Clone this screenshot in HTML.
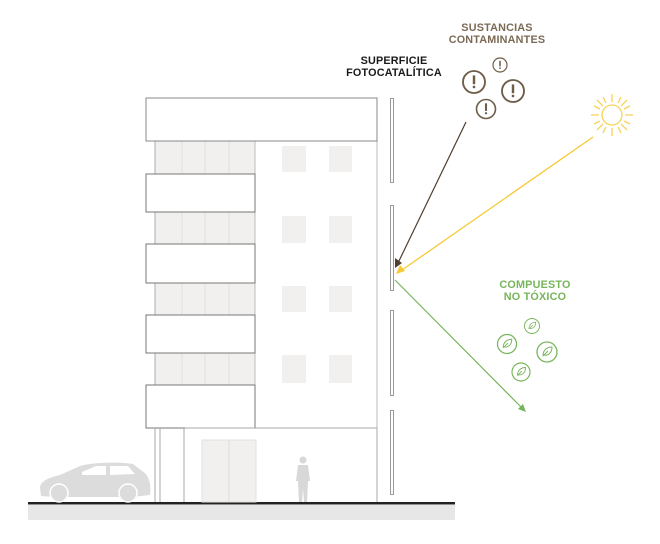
<!DOCTYPE html>
<html><head><meta charset="utf-8"><style>
html,body{margin:0;padding:0;background:#fff;}
svg{display:block}
text{font-family:"Liberation Sans",sans-serif;font-weight:bold;font-size:10.8px;text-anchor:middle;letter-spacing:0.2px}
</style></head><body>
<svg width="660" height="544" viewBox="0 0 660 544" xmlns="http://www.w3.org/2000/svg">
<defs>
<g id="ex"><circle r="10" fill="none" stroke="#6e5d48" stroke-width="1.7"/><rect x="-1.1" y="-6" width="2.2" height="8" fill="#6e5d48"/><circle cy="4.5" r="1.2" fill="#6e5d48"/></g>
<g id="lf"><circle r="10" fill="none" stroke="#77b55a" stroke-width="1.3"/><path d="M-4 4 C-4 -2 0 -5 5 -5 C5 1 1 4 -3 3 M-4 4 L1 -1" fill="none" stroke="#77b55a" stroke-width="1"/></g>
</defs>
<rect x="28" y="505" width="427" height="15" fill="#e6e7e6"/>
<rect x="28" y="502" width="427" height="2.5" fill="#222"/>
<g fill="#f1f0ee" stroke="#999" stroke-width="0.8">
<rect x="155" y="141" width="100" height="33"/><rect x="155" y="212" width="100" height="32"/>
<rect x="155" y="283" width="100" height="32"/><rect x="155" y="353" width="100" height="32"/>
</g>
<g stroke="#e2e1de" stroke-width="1">
<path d="M182 141V174M205 141V174M229 141V174M182 212V244M205 212V244M229 212V244M182 283V315M205 283V315M229 283V315M182 353V385M205 353V385M229 353V385"/>
</g>
<rect x="255" y="141" width="122" height="287" fill="#fff" stroke="#bbb" stroke-width="1"/>
<rect x="146" y="98" width="231" height="43" fill="#fff" stroke="#888" stroke-width="1"/>
<g fill="#fff" stroke="#777" stroke-width="1">
<rect x="146" y="174" width="109" height="38"/><rect x="146" y="244" width="109" height="39"/>
<rect x="146" y="315" width="109" height="38"/><rect x="146" y="385" width="109" height="43"/>
</g>
<g fill="#f1f0ee">
<rect x="282" y="146" width="24" height="26"/><rect x="329" y="146" width="23" height="26"/>
<rect x="282" y="216" width="24" height="27"/><rect x="329" y="216" width="23" height="27"/>
<rect x="282" y="286" width="24" height="26"/><rect x="329" y="286" width="23" height="26"/>
<rect x="282" y="355" width="24" height="28"/><rect x="329" y="355" width="23" height="28"/>
</g>
<path d="M155 428V502M160 428V502M184 428V502M377 428V502M185 428H377" stroke="#aaa" stroke-width="1" fill="none"/>
<rect x="202" y="440" width="54" height="62" fill="#f1f0ee" stroke="#e2e1de"/>
<path d="M229 440V502" stroke="#ddd"/>
<g fill="#d8d8d8"><circle cx="303" cy="460" r="3.5"/><path d="M298 465h10l2 16h-2l-1 21h-3l-1-14-1 14h-3l-1-21h-2z"/></g>
<g fill="#dcdcdc">
<path d="M40 488 C40 480 52 477 60 475 L80 466 C95 462 120 462 133 464 L146 474 C150 480 151 486 150 495 L132 497 L55 497 L41 496 Z"/>
</g>
<g fill="#fff"><path d="M82 472 L96 466 L106 466 L106 475 L82 475Z M110 466 L128 466 L135 474 L110 475Z"/></g>
<g fill="#dcdcdc" stroke="#fff" stroke-width="1.5"><circle cx="59" cy="493" r="9"/><circle cx="128" cy="493" r="9"/></g>
<g fill="#fff" stroke="#999" stroke-width="1">
<rect x="390.5" y="98.5" width="3" height="84"/><rect x="390.5" y="205.5" width="3" height="85"/>
<rect x="390.5" y="310.5" width="3" height="85"/><rect x="390.5" y="410.5" width="3" height="84"/>
</g>
<line x1="466" y1="122" x2="398" y2="263" stroke="#4e3f2f" stroke-width="1.2"/>
<path d="M395 268 L395 258 L402 263 Z" fill="#4e3f2f"/>
<line x1="593" y1="137" x2="402" y2="270" stroke="#f7c935" stroke-width="1.3"/>
<path d="M396 274 L400 265 L405 271 Z" fill="#f7c935"/>
<line x1="395" y1="280" x2="523" y2="409" stroke="#77b55a" stroke-width="1.2"/>
<path d="M526 412 L518 409 L523 404 Z" fill="#77b55a"/>
<g stroke="#f7d25a" stroke-width="1.3" fill="none">
<circle cx="612" cy="115" r="10"/>
<path d="M612 102V94M612 128V136M599 115H591M625 115H633M603 106L597 100M621 124L627 130M621 106L627 100M603 124L597 130M606 103L603 97M618 127L621 133M618 103L621 97M606 127L603 133M600 109L594 106M624 121L630 124M624 109L630 106M600 121L594 124"/>
</g>
<use href="#ex" transform="translate(474,82) scale(1.1)"/>
<use href="#ex" transform="translate(500,65) scale(0.7)"/>
<use href="#ex" transform="translate(513,91) scale(1.1)"/>
<use href="#ex" transform="translate(486,109) scale(0.95)"/>
<use href="#lf" transform="translate(532,326) scale(0.75)"/>
<use href="#lf" transform="translate(507,344) scale(0.95)"/>
<use href="#lf" transform="translate(547,352) scale(1)"/>
<use href="#lf" transform="translate(521,372) scale(0.9)"/>
<text x="497" y="31" fill="#7a6a55">SUSTANCIAS</text>
<text x="497" y="43" fill="#7a6a55">CONTAMINANTES</text>
<text x="394" y="64" fill="#1a1a1a">SUPERFICIE</text>
<text x="394" y="76" fill="#1a1a1a">FOTOCATALÍTICA</text>
<text x="535" y="288" fill="#77b55a">COMPUESTO</text>
<text x="535" y="300" fill="#77b55a">NO TÓXICO</text>
</svg>
</body></html>
